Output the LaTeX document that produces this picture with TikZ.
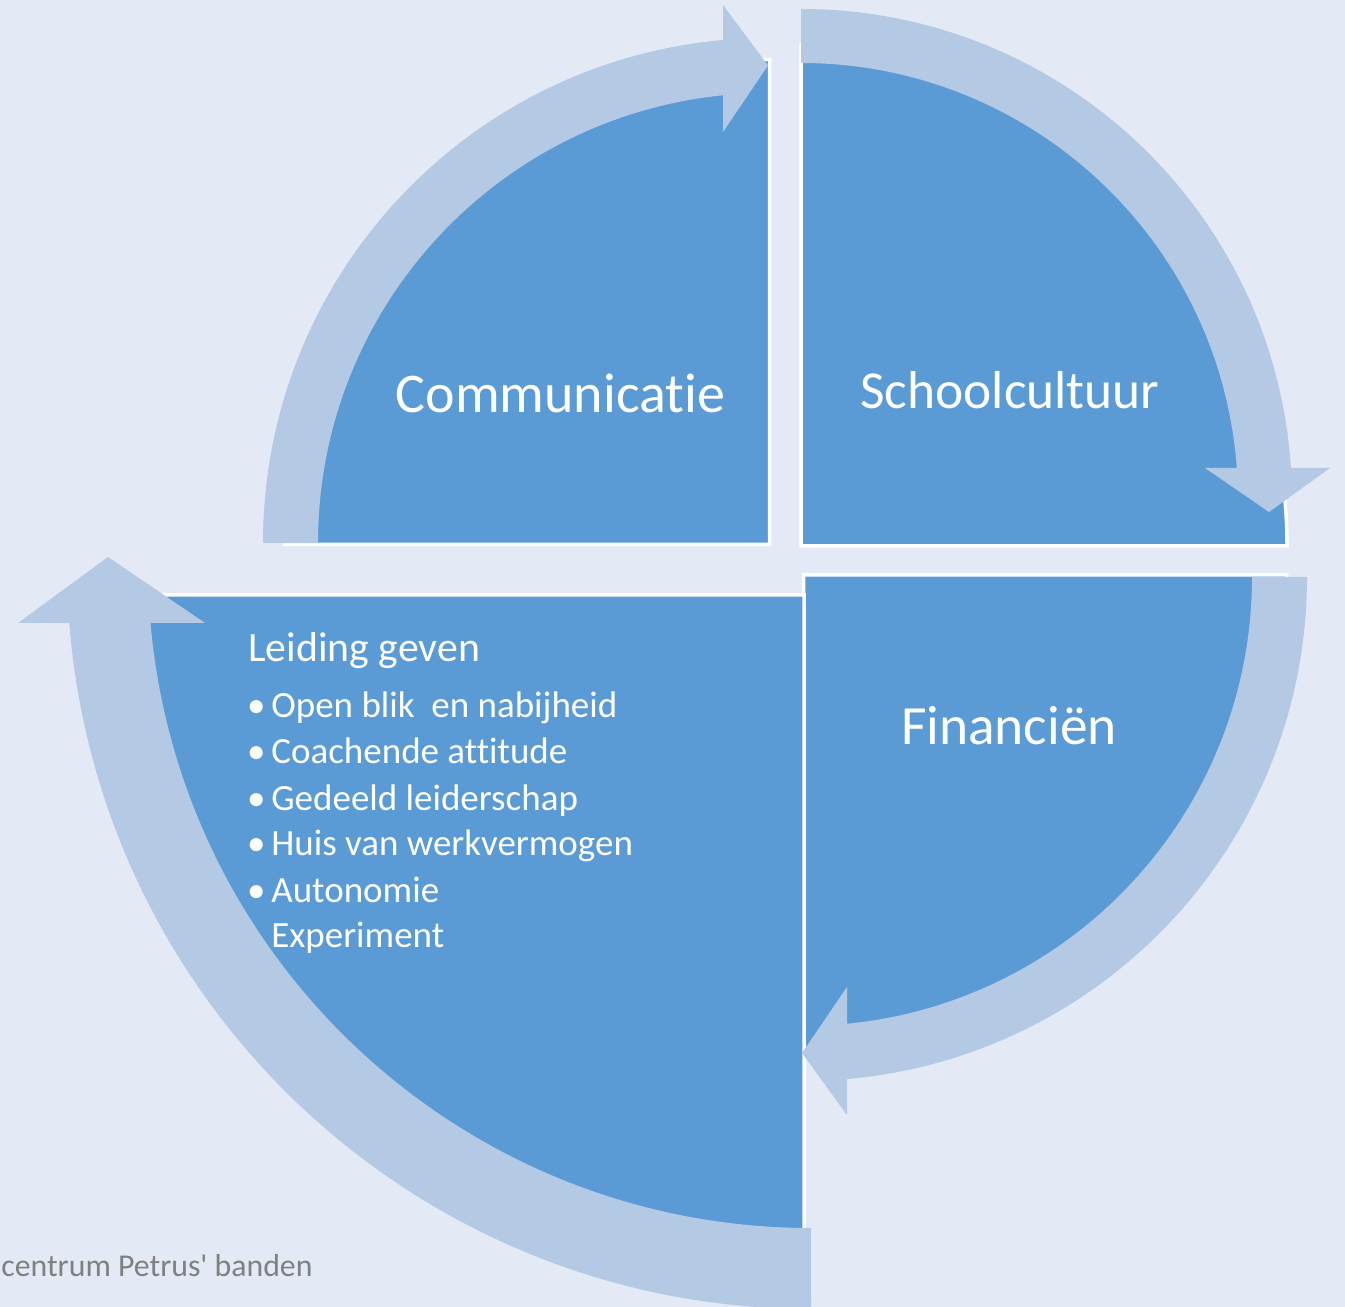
\documentclass[tikz,border=0pt]{standalone}
\usepackage{fontspec}
\setmainfont{Carlito}[Ligatures=NoCommon]
\newfontfamily\footfont{Carlito}[Ligatures={TeXOff,NoCommon}]
\definecolor{bg}{RGB}{227,234,245}
\definecolor{sec}{RGB}{91,155,213}
\definecolor{band}{RGB}{180,201,228}
\definecolor{foot}{RGB}{128,128,128}
\begin{document}
\begin{tikzpicture}[x=0.5pt,y=0.5pt,
  sector/.style={fill=sec,draw=white,line width=1.75pt},
  arrowband/.style={fill=band},
  lbl/.style={text=white,inner sep=0pt,anchor=base},
  headline/.style={text=white,font=\fontsize{20.9}{25}\selectfont,inner sep=0pt,anchor=base west},
  item/.style={text=white,font=\fontsize{18.5}{22}\selectfont,inner sep=0pt,anchor=base west}]
\useasboundingbox (0,0) rectangle (1345,1307);
\clip (0,0) rectangle (1345,1307);
\fill[bg] (0,0) rectangle (1345,1307);

% sector corners
\coordinate (cTL) at (769.5,762.5);
\coordinate (cTR) at (801,761);
\coordinate (cBR) at (803.5,732);
\coordinate (cBL) at (804,712);

\path[sector] (cTL) -- ++(-485,0) arc[start angle=180,end angle=90,radius=485] -- cycle;
\path[sector] (cTR) -- ++(0,501) arc[start angle=90,end angle=0,x radius=486,y radius=501] -- cycle;
\path[sector] (cBR) -- ++(483,0) arc[start angle=0,end angle=-90,radius=483] -- cycle;
\path[sector] (cBL) -- ++(0,-680) arc[start angle=270,end angle=180,radius=680] -- cycle;

% arrow centres
\coordinate (aTL) at (768,764);
\coordinate (aTR) at (801,807);
\coordinate (aBR) at (803,730);
\coordinate (aBL) at (811,742);

\fill[arrowband] ([shift={(180:505)}]aTL) arc[start angle=180,end angle=95.11,radius=505]
  -- (723,1302) -- (768,1241.5) -- (723,1175) -- (723,1211.7)
  arc[start angle=95.74,end angle=180,radius=450] -- cycle;
\fill[arrowband] ([shift={(90:491)}]aTR) arc[start angle=90,end angle=3.74,radius=491]
  -- (1330,839) -- (1269,795) -- (1205,839) -- (1236.8,839)
  arc[start angle=4.2,end angle=90,radius=437] -- cycle;
\fill[arrowband] ([shift={(0:504)}]aBR) arc[start angle=0,end angle=-84.99,radius=504]
  -- (847,192) -- (802,254) -- (847,320) -- (847,283.2)
  arc[start angle=-84.38,end angle=0,radius=449] -- cycle;
\fill[arrowband] ([shift={(270:744)}]aBL) arc[start angle=270,end angle=184.47,radius=744]
  -- (18,684) -- (108,750) -- (205,684) -- (150.5,684)
  arc[start angle=185.02,end angle=270,radius=663] -- cycle;

% labels
\node[lbl,font=\fontsize{28}{33}\selectfont] (comm) at (560.5,894) {Communicatie};
\node[lbl,font=\fontsize{26.7}{32}\selectfont] (school) at (1010,898) {Schoolcultuur};
\node[lbl,font=\fontsize{27.7}{33}\selectfont] (fin) at (1009,562) {Financiën};

\node[headline] (lead) at (248,645) {Leiding geven};
\node[item] (i1) at (271,589) {\llap{\makebox[15pt]{•}}Open blik\ \ en nabijheid};
\node[item] (i2) at (271,543) {\llap{\makebox[15pt]{•}}Coachende attitude};
\node[item] (i3) at (271,496) {\llap{\makebox[15pt]{•}}Gedeeld leiderschap};
\node[item] (i4) at (271,451) {\llap{\makebox[15pt]{•}}Huis van werkvermogen};
\node[item] (i5) at (271,404) {\llap{\makebox[15pt]{•}}Autonomie};
\node[item] (i6) at (271,359) {Experiment};

\node[anchor=base west,inner sep=0pt,text=foot,font=\footfont\fontsize{15.9}{19}\selectfont] (credit) at (1,30) {centrum Petrus' banden};
\end{tikzpicture}
\end{document}
